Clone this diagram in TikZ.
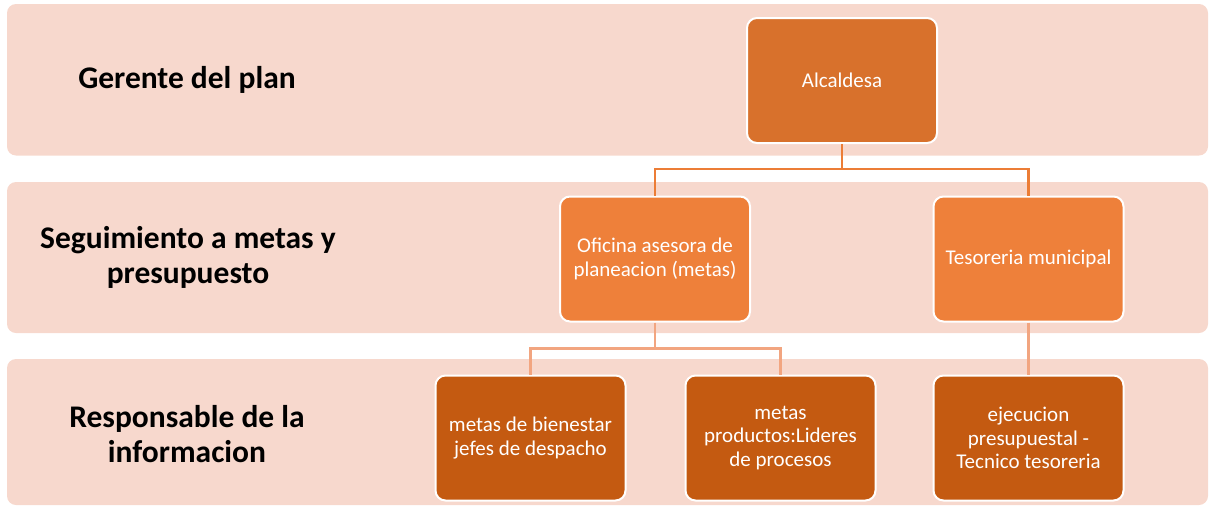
\documentclass[tikz,border=0pt]{standalone}
\usepackage{fontspec}
\setmainfont{Carlito}
\usepackage{tikz}
\usetikzlibrary{positioning, calc}
\definecolor{bandpeach}{HTML}{F7D8CD}
\definecolor{topbox}{HTML}{D8712C}
\definecolor{midbox}{HTML}{EE803A}
\definecolor{lowbox}{HTML}{C45A11}
\definecolor{linktop}{HTML}{EC7D36}
\definecolor{linklow}{HTML}{F2A580}
\tikzset{
    band/.style={fill=bandpeach, draw=none, rounded corners=9pt},
    rolebox/.style={draw=white, line width=2pt, rounded corners=10pt,
        minimum width=190pt, minimum height=125pt, align=center,
        text=white, font=\fontsize{21}{23.5}\selectfont},
    levellabel/.style={align=center, text=black,
        font=\bfseries\fontsize{31.5}{35}\selectfont},
    linkA/.style={draw=linktop, line width=2.2pt},
    linkB/.style={draw=linklow, line width=2.2pt}
}

\begin{document}
\begin{tikzpicture}[x=1pt, y=-1pt]
    \useasboundingbox (0,0) rectangle (1209,506);
    % level bands
    \fill[band] (7,4) rectangle (1208,155.5);
    \fill[band] (7,182) rectangle (1208,333);
    \fill[band] (7,359) rectangle (1208,505);
    % level names
    \node[levellabel] (lvl1) at (187,80) {Gerente del plan};
    \node[levellabel] (lvl2) at (188,257) {Seguimiento a metas y\\presupuesto};
    \node[levellabel] (lvl3) at (187,434) {Responsable de la\\informacion};
    % boxes
    \node[rolebox, fill=topbox] (alc) at (842,80.5) {Alcaldesa};
    \node[rolebox, fill=midbox] (ofi) at (655,259) {Oficina asesora de\\planeacion (metas)};
    \node[rolebox, fill=midbox] (tes) at (1028.5,259) {Tesoreria municipal};
    \node[rolebox, fill=lowbox] (bien) at (530.5,438) {metas de bienestar\\jefes de despacho};
    \node[rolebox, fill=lowbox] (prod) at (780.5,438) {metas\\productos:Lideres\\de procesos};
    \node[rolebox, fill=lowbox] (ejec) at (1028.5,438) {ejecucion\\presupuestal -\\Tecnico tesoreria};
    % connectors
    \coordinate (j1) at ($(alc.south)+(0,25)$);
    \coordinate (j2) at ($(ofi.south)+(0,26)$);
    \draw[linkA] (alc.south) -- (j1) -| (ofi.north);
    \draw[linkA] (j1) -| (tes.north);
    \draw[linkB] (ofi.south) -- (j2) -| (bien.north);
    \draw[linkB] (j2) -| (prod.north);
    \draw[linkB] (tes.south) -- (ejec.north);
\end{tikzpicture}
\end{document}
